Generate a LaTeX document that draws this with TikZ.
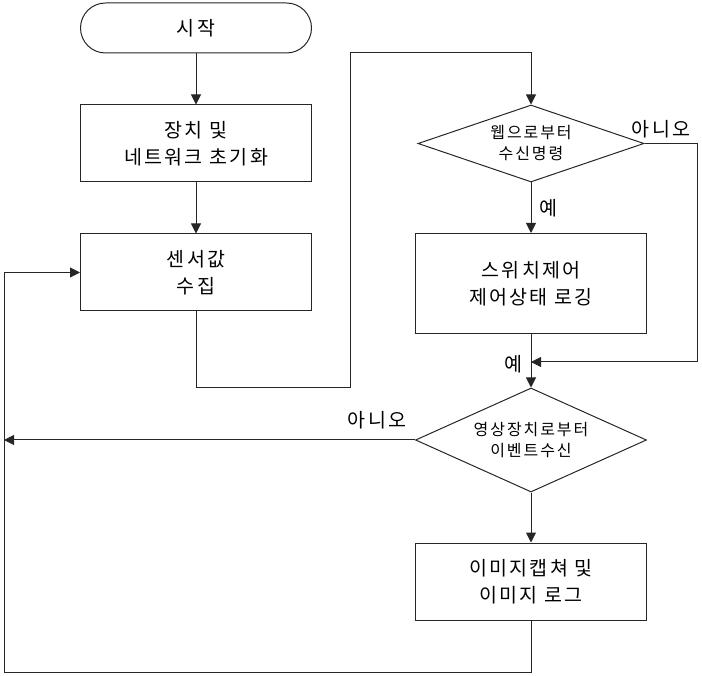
\documentclass[tikz,border=0pt]{standalone}
\usepackage{fontspec}
\setmainfont[LetterSpace=12]{Noto Sans CJK KR}
\usetikzlibrary{shapes.geometric,arrows.meta}
\begin{document}
\begin{tikzpicture}[x=1pt,y=-1pt,
  line width=1pt,
  conn/.style={draw=black!85},
  arr/.style={conn,-{Triangle[length=10pt,width=10pt]}},
  proc/.style={draw=black!85,rectangle,minimum width=231pt,minimum height=77pt,inner sep=0pt,align=center,font=\fontsize{19.5}{27}\selectfont},
  term/.style={draw=black!85,rectangle,rounded corners=25pt,minimum width=231pt,minimum height=50pt,inner sep=0pt,font=\fontsize{19.5}{27}\selectfont},
  dec/.style={draw=black!85,diamond,inner sep=0pt,align=center,font=\fontsize{16}{21}\selectfont},
  lbl/.style={font=\fontsize{19.5}{22}\selectfont,inner sep=0pt}]
\useasboundingbox (0,0) rectangle (702,676);
\node[term] (start) at (196,28) {시작};
\node[proc] (init) at (196,143.5) {장치 및\\네트워크 초기화};
\node[proc] (sense) at (196,272.5) {센서값\\수집};
\node[dec,minimum width=226pt,minimum height=77pt,aspect=2.94] (web) at (531,143.5) {웹으로부터\\수신명령};
\node[proc,minimum height=100pt] (sw) at (531,283.5) {스위치제어\\제어상태 로깅};
\node[dec,minimum width=231pt,minimum height=104pt,aspect=2.22] (cam) at (531,440) {영상장치로부터\\이벤트수신};
\node[proc] (img) at (531,581.5) {이미지캡쳐 및\\이미지 로그};
\coordinate (c1) at (350,388);
\coordinate (c2) at (350,53);
\coordinate (c3) at (697,362);
\coordinate (m1) at (531,362);
\coordinate (c4) at (4,440);
\coordinate (c5) at (4,672);
\coordinate (c6) at (4,272.5);
\draw[arr] (start) -- (init);
\draw[arr] (init) -- (sense);
\draw[arr] (sense.south) |- (c1) -- (c2) -| (web.north);
\draw[arr] (web.south) -- (sw.north);
\draw[conn] (web.east) -| (c3);
\draw[arr] (c3) -- (m1);
\draw[arr] (sw.south) -- (cam.north);
\draw[arr] (cam.west) -- (c4);
\draw[arr] (cam.south) -- (img.north);
\draw[arr] (img.south) |- (c5) -- (c6) -- (sense.west);
\node[lbl] (no1) at (661,129) {아니오};
\node[lbl] (yes1) at (548,208) {예};
\node[lbl] (yes2) at (513,364) {예};
\node[lbl] (no2) at (377,420) {아니오};
\end{tikzpicture}
\end{document}
